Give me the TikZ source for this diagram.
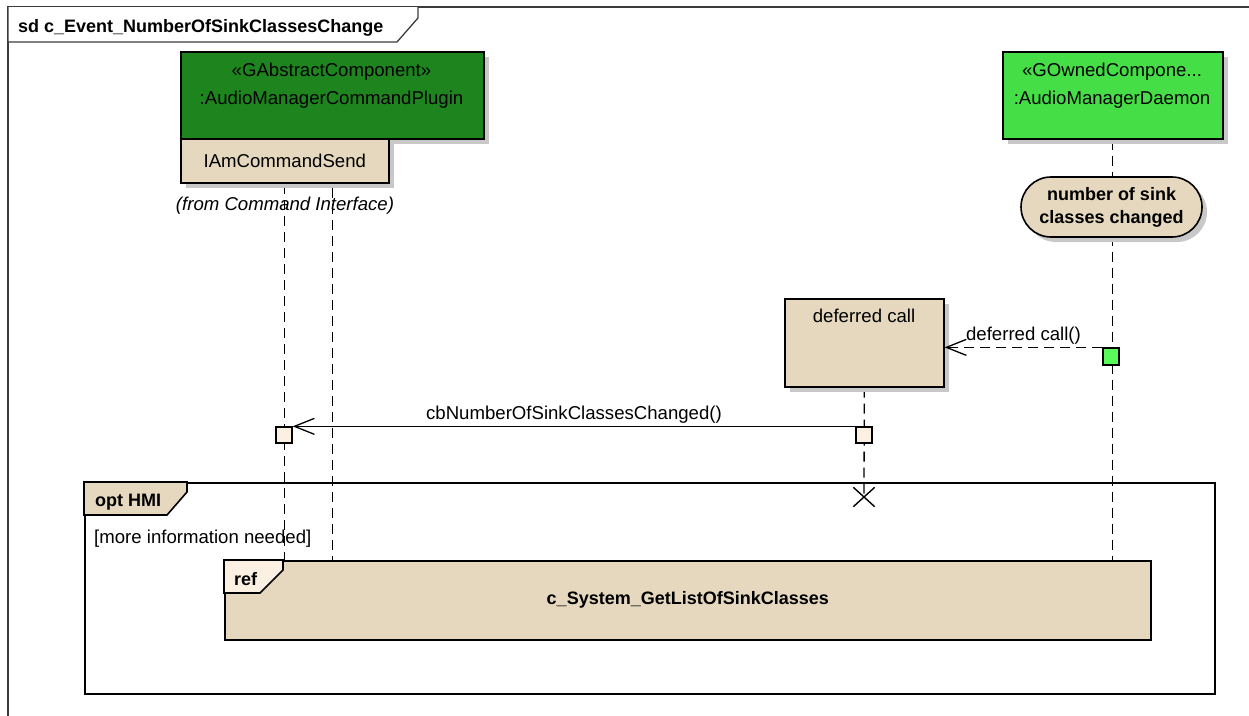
\documentclass[tikz,border=0pt]{standalone}
\usepackage{fontspec}
\setmainfont{Liberation Sans}
\usetikzlibrary{arrows.meta,shadows,shapes.misc,backgrounds}
\definecolor{dkgreen}{RGB}{30,132,30}
\definecolor{ltgreen}{RGB}{70,222,70}
\definecolor{gract}{RGB}{90,250,90}
\definecolor{tan}{RGB}{229,216,190}
\definecolor{ltact}{RGB}{251,240,225}
\definecolor{shadowgray}{RGB}{200,200,200}
\definecolor{framegray}{RGB}{60,60,60}
\tikzset{
  box/.style={draw, line width=1.6pt, inner sep=0pt},
  shad/.style={general shadow={fill=shadowgray, shadow xshift=5pt, shadow yshift=-5pt}},
  life/.style={line width=1.3pt, dash pattern=on 10pt off 6pt},
  act/.style={draw, line width=1.3pt, minimum size=16pt, inner sep=0pt},
  msg/.style={line width=1.3pt, -{Straight Barb[length=20pt,width=16pt,line width=1.3pt]}},
  dmsg/.style={msg, dash pattern=on 10pt off 6pt},
  bf/.style={font=\bfseries\fontsize{18}{21}\selectfont},
  framel/.style={draw=framegray, line width=1.3pt},
}
\begin{document}
\begin{tikzpicture}[x=1pt,y=-1pt, font=\fontsize{18.6}{21}\selectfont, text=black]
\useasboundingbox (0,0) rectangle (1249,715);
\clip (0,0) rectangle (1249,715);

% outer frame
\draw[framel] (8,730) -- (8,7) -- (1262,7);
\draw[framel, fill=white] (8,7) -- (8,42) -- (397,42) -- (418,18) -- (418,7);
\node[bf, anchor=base west, inner sep=0pt] (title) at (18,32) {sd c\_Event\_NumberOfSinkClassesChange};

% lifeline heads
\node[box, shad, fill=dkgreen, minimum width=303pt, minimum height=87pt, anchor=north west] (cmp) at (180,51) {};
\node[anchor=base, inner sep=0pt, text=black] (cmpst) at (331.5,76) {«GAbstractComponent»};
\node[anchor=base, inner sep=0pt, text=black] (cmpnm) at (331.5,104) {:AudioManagerCommandPlugin};
\node[box, shad, fill=tan, minimum width=208pt, minimum height=44pt, anchor=north west] (ifc) at (180,138) {IAmCommandSend};
\node[anchor=base, inner sep=0pt, font=\itshape\fontsize{18.6}{21}\selectfont] (from) at (285,210) {(from Command Interface)};

\node[box, shad, fill=ltgreen, minimum width=220pt, minimum height=87pt, anchor=north west] (dmn) at (1002,51) {};
\node[anchor=base, inner sep=0pt] (dmnst) at (1112,76) {«GOwnedCompone...};
\node[anchor=base, inner sep=0pt] (dmnnm) at (1112,104) {:AudioManagerDaemon};

% state
\node[box, shad, fill=tan, rounded rectangle, minimum width=181pt, minimum height=60pt, align=center,
      font=\bfseries\fontsize{18}{23}\selectfont] (st) at (1111.5,207) {number of sink\\classes changed};

% deferred call
\node[box, shad, fill=tan, minimum width=159pt, minimum height=88pt, anchor=north west] (dc) at (784,298) {};
\node[anchor=base, inner sep=0pt] (dctxt) at (864,322) {deferred call};

% activations
\node[act, fill=ltact] (a1) at (284,435) {};
\node[act, fill=ltact] (a2) at (864,435) {};
\node[act, fill=gract, minimum width=16pt, minimum height=17pt] (a3) at (1111,356.5) {};

% messages
\draw[dmsg] (a3.north west) -- node[above=1pt, inner sep=1pt] (m2lbl) {deferred call()} (a3.north west -| dc.east);
\draw[msg] (a2.north west) -- node[above=1pt, inner sep=1pt] (m1lbl) {cbNumberOfSinkClassesChanged()} (a2.north west -| a1.east);

% destroy
\node[cross out, draw, line width=1.4pt, minimum width=20pt, minimum height=18pt, inner sep=0pt] (dx) at (864,497) {};

% opt fragment
\node[draw, line width=1.6pt, minimum width=1130pt, minimum height=211pt, anchor=north west, inner sep=0pt] (opt) at (84,482) {};
\draw[line width=1.6pt, fill=tan] (84,482) -- (187,482) -- (187,492) -- (167,515) -- (84,515) -- cycle;
\node[bf, anchor=base west, inner sep=0pt] (optlbl) at (95,506) {opt HMI};
\node[anchor=base west, inner sep=0pt] (guard) at (94,543) {[more information needed]};

% ref
\node[box, fill=tan, minimum width=926pt, minimum height=79pt, anchor=north west] (ref) at (224,560) {};
\draw[line width=1.6pt, fill=ltact] (224,560) -- (283,560) -- (283,570) -- (260,593) -- (224,593) -- cycle;
\node[bf, anchor=base west, inner sep=0pt] (reflbl) at (234,585) {ref};
\node[bf] (refname) at (ref.center) {c\_System\_GetListOfSinkClasses};

% lifelines
\begin{scope}[on background layer]
\draw[life] (ifc.south) -- (ifc.south |- ref.north);
\draw[life] (cmp.south) -- (cmp.south |- ref.north);
\draw[life] (dmn.south) -- (dmn.south |- ref.north);
\draw[life] (dc.south) -- (dx.center);
\end{scope}
\end{tikzpicture}
\end{document}
